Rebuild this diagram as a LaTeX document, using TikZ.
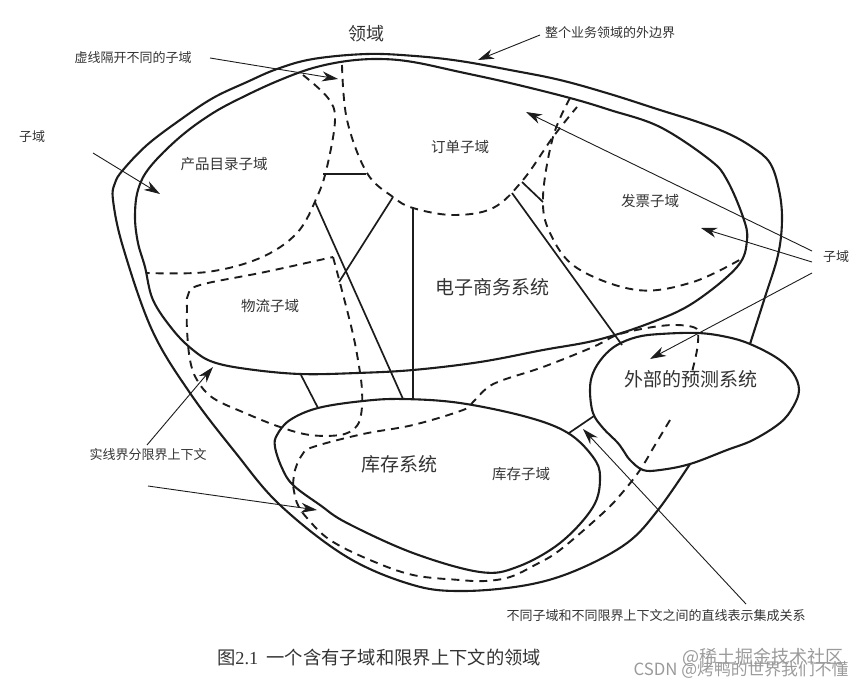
\documentclass[tikz,border=0pt]{standalone}
\usepackage{fontspec}
\setmainfont{Noto Sans CJK SC}
\newfontfamily\capfont{Liberation Serif}
\usetikzlibrary{arrows.meta}
\definecolor{inkc}{HTML}{1C1C1C}
\definecolor{txtc}{HTML}{333333}
\definecolor{markc}{HTML}{9A9A9A}
\begin{document}
\begin{tikzpicture}[
        x=1pt, y=-1pt,
        every node/.style={inner sep=0pt, text=txtc},
        bound/.style={inkc, line width=2.1pt},
        subdom/.style={inkc, line width=1.9pt, dash pattern=on 8pt off 6pt},
        link/.style={inkc, line width=1.7pt},
        ar/.style={-{Stealth[length=16pt, width=10pt, inset=5pt]}, inkc, line width=0.9pt},
        big/.style={font=\fontsize{19}{19}\selectfont},
        mid/.style={font=\fontsize{14.5}{15}\selectfont},
        small/.style={font=\fontsize{13}{13}\selectfont},
    ]
    \useasboundingbox (0,0) rectangle (864,688);

    % labels
    \node[font=\fontsize{18}{18}\selectfont](domain) at (366,34) {领域};
    \node[small](outerlabel) at (610,33) {整个业务领域的外边界};
    \node[small](dashlabel) at (133,58) {虚线隔开不同的子域};
    \node[small](sublabela) at (32,137) {子域};
    \node[small](sublabelb) at (836,257) {子域};
    \node[small](solidlabel) at (148,455) {实线界分限界上下文};
    \node[small](linklabel) at (656,616) {不同子域和不同限界上下文之间的直线表示集成关系};
    \node[mid](catalog) at (224,164) {产品目录子域};
    \node[mid](order) at (460,147) {订单子域};
    \node[mid](invoice) at (650,201) {发票子域};
    \node[mid](logistics) at (270,306) {物流子域};
    \node[mid](stocksub) at (521,474) {库存子域};
    \node[big](shop) at (492,287) {电子商务系统};
    \node[big](stock) at (399,464) {库存系统};
    \node[big](forecast) at (691,379) {外部的预测系统};
    \node[font=\fontsize{18.3}{18}\selectfont](caption) at (379,658) {图{\capfont 2.1}\ \ 一个含有子域和限界上下文的领域};
    \node[text=markc, font=\fontsize{18}{18}\selectfont](markb) at (763,657) {@稀土掘金技术社区};
    \node[text=markc, font=\fontsize{16.8}{17}\selectfont](marka) at (741,670) {CSDN @烤鸭的世界我们不懂};

    % solid boundaries
    \draw[bound] plot[smooth, tension=0.6] coordinates {(750,344) (765,297) (778,255) (782,220) (779,190) (770,163) (752,147) (727,133) (695,121) (660,110) (610,94) (560,80) (510,70) (460,61) (415,56) (367,54) (313,59) (277,69) (247,82) (213,98) (180,120) (147,145) (123,170) (115,183) (113,200) (123,247) (152,330) (190,393) (235,452) (280,505) (347,557) (413,585) (463,591) (527,585) (577,570) (627,543) (658,510) (690,464)};
    \draw[bound] plot[smooth cycle, tension=0.6] coordinates {(135,217) (138,190) (150,167) (180,137) (213,113) (247,95) (280,80) (313,68) (347,61) (380,59) (413,62) (460,72) (510,83) (570,98) (610,110) (660,127) (710,160) (727,180) (743,217) (747,240) (737,267) (693,303) (650,323) (597,340) (543,350) (480,362) (413,370) (357,373) (300,374) (247,369) (213,362) (193,350) (173,330) (153,300) (145,267) (138,243)};
    \draw[bound] plot[smooth cycle, tension=0.6] coordinates {(275,447) (277,435) (290,420) (318,408) (363,401) (403,399) (460,403) (527,417) (568,433) (593,457) (600,477) (593,507) (560,543) (517,567) (480,572) (413,553) (347,523) (320,505) (293,485) (282,468)};
    \draw[bound] plot[smooth cycle, tension=0.6] coordinates {(590,390) (593,373) (603,357) (617,345) (637,337) (660,334) (698,333) (727,337) (750,344) (777,358) (793,373) (799,390) (793,407) (780,423) (753,440) (727,450) (690,464) (660,470) (643,470) (630,460) (623,450) (617,442) (603,428) (593,413)};

    % dashed subdomains
    \draw[subdom] plot[smooth, tension=0.6] coordinates {(303,75) (328,98) (335,120) (327,167) (317,197) (297,233) (260,258) (207,272) (147,273)};
    \draw[subdom] plot[smooth, tension=0.6] coordinates {(342,65) (347,120) (367,173) (393,197) (413,208) (453,215) (493,208) (523,180) (553,137) (577,107)};
    \draw[subdom] plot[smooth, tension=0.6] coordinates {(570,98) (553,137) (543,197) (550,233) (577,268) (637,290) (693,282) (743,258)};
    \draw[subdom] plot[smooth, tension=0.6] coordinates {(333,257) (340,283) (352,330) (358,360) (362,390) (361,415) (355,428) (340,435) (310,435) (280,427) (245,413) (213,398) (197,380) (190,360) (187,330) (187,310) (188,295) (200,285) (265,272) (333,257)};
    \draw[subdom] plot[smooth, tension=0.6] coordinates {(293,485) (295,470) (302,455) (313,447) (363,434) (413,425) (463,410) (473,402) (487,388) (503,380) (543,367) (593,347) (617,335) (647,328) (673,325) (693,327) (698,333) (697,350) (692,372)};
    \draw[subdom] plot[smooth, tension=0.6] coordinates {(670,420) (655,445) (640,470) (622,493) (603,513) (560,550) (535,565) (510,577) (485,581) (460,580) (413,575) (370,560) (330,540) (307,518) (297,503) (293,485)};

    % integration lines
    \coordinate (ca) at (323,174);
    \coordinate (cb) at (366,174);
    \coordinate (cc) at (315,202);
    \coordinate (cd) at (403,399);
    \coordinate (ce) at (393,197);
    \coordinate (cf) at (339,282);
    \coordinate (cg) at (413,208);
    \coordinate (ch) at (413,399);
    \coordinate (ci) at (301,375);
    \coordinate (cj) at (318,408);
    \coordinate (ck) at (522,182);
    \coordinate (cl) at (543,202);
    \coordinate (cm) at (512,193);
    \coordinate (cn) at (622,345);
    \coordinate (co) at (569,433);
    \coordinate (cp) at (594,416);
    \path[link]
    (ca) edge (cb)
    (cc) edge (cd)
    (ce) edge (cf)
    (cg) edge (ch)
    (ci) edge (cj)
    (ck) edge (cl)
    (cm) edge (cn)
    (co) edge (cp)
    ;

    % thin arrows
    \coordinate (ta) at (210,58);
    \coordinate (tb) at (338,79);
    \coordinate (tc) at (93,153);
    \coordinate (td) at (160,194);
    \coordinate (te) at (540,35);
    \coordinate (tf) at (478,60);
    \coordinate (tg) at (812,251);
    \coordinate (th) at (526,112);
    \coordinate (ti) at (812,262);
    \coordinate (tj) at (701,228);
    \coordinate (tk) at (812,273);
    \coordinate (tl) at (650,359);
    \coordinate (tm) at (147,445);
    \coordinate (tn) at (213,367);
    \coordinate (tp) at (148,486);
    \coordinate (tq) at (317,510);
    \coordinate (tr) at (746,604);
    \coordinate (ts) at (583,429);
    \path[ar]
    (ta) edge (tb)
    (tc) edge (td)
    (te) edge (tf)
    (tg) edge (th)
    (ti) edge (tj)
    (tk) edge (tl)
    (tm) edge (tn)
    (tp) edge (tq)
    (tr) edge (ts)
    ;
    \end{tikzpicture}
\end{document}
